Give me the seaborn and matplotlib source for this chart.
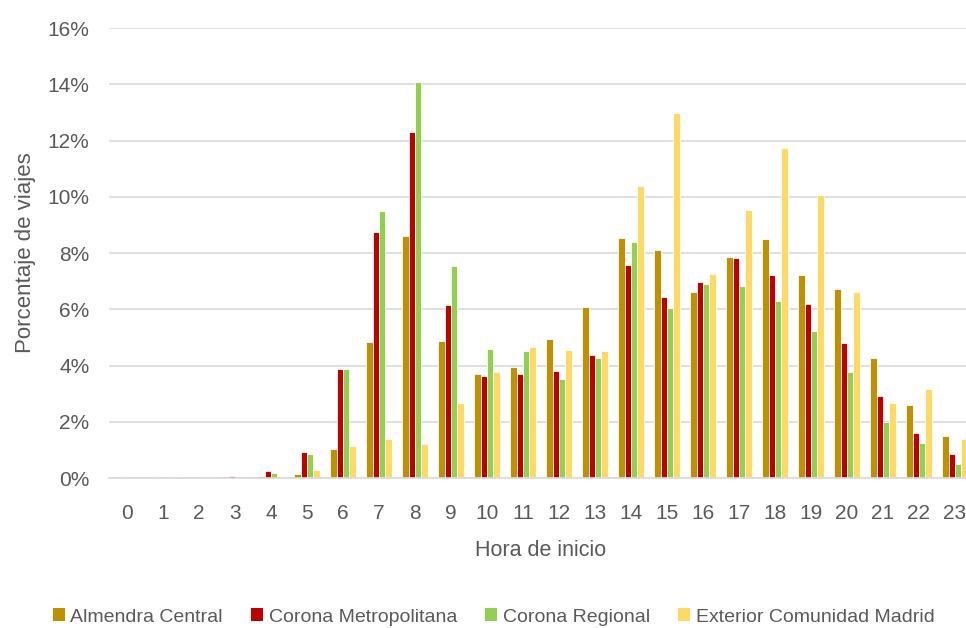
import matplotlib
matplotlib.use("Agg")
import matplotlib.pyplot as plt
import seaborn as sns
import pandas as pd
from matplotlib.ticker import PercentFormatter
from matplotlib.patches import Patch

hours = [str(h) for h in range(24)]
series = ["Almendra Central", "Corona Metropolitana", "Corona Regional", "Exterior Comunidad Madrid"]

almendra = [0.01, 0.02, 0.01, 0.01, 0.06, 0.14, 1.03, 4.85, 8.62, 4.88, 3.69, 3.93,
            4.95, 6.07, 8.53, 8.11, 6.62, 7.85, 8.50, 7.22, 6.71, 4.26, 2.61, 1.48]
metropolitana = [0.03, 0.01, 0.01, 0.07, 0.24, 0.91, 3.88, 8.73, 12.31, 6.16, 3.63, 3.69,
                 3.81, 4.37, 7.56, 6.43, 6.98, 7.83, 7.21, 6.18, 4.80, 2.93, 1.59, 0.85]
regional = [0.01, 0.01, 0.01, 0.02, 0.18, 0.85, 3.88, 9.48, 14.07, 7.53, 4.58, 4.53,
            3.51, 4.27, 8.40, 6.03, 6.89, 6.84, 6.28, 5.23, 3.78, 2.00, 1.24, 0.50]
exterior = [0.01, 0.07, 0.06, 0.01, 0.02, 0.28, 1.14, 1.39, 1.21, 2.66, 3.78, 4.66,
            4.56, 4.53, 10.38, 12.98, 7.25, 9.54, 11.74, 10.05, 6.61, 2.67, 3.18, 1.39]

colors = ["#BF9000", "#C00000", "#92D050", "#FFD966"]

rows = []
for name, vals in zip(series, [almendra, metropolitana, regional, exterior]):
    for h, v in zip(hours, vals):
        rows.append({"hora": h, "zona": name, "pct": v})
df = pd.DataFrame(rows)

sns.set_theme(style="white")
plt.rcParams["font.family"] = ["Liberation Sans", "DejaVu Sans"]
text_color = "#595959"

fig = plt.figure(figsize=(9.66, 6.28), dpi=100)
ax = fig.add_axes([109 / 966, 1 - 478 / 628, 864 / 966, 450 / 628])

sns.barplot(data=df, x="hora", y="pct", hue="zona", order=hours, hue_order=series,
            palette=colors, width=0.72, edgecolor="white", linewidth=0.6,
            saturation=1, legend=False, ax=ax)

ax.set_ylim(0, 16)
ax.set_yticks(range(0, 17, 2))
ax.yaxis.set_major_formatter(PercentFormatter(decimals=0))
ax.set_xlim(-0.5, 23.5)
ax.yaxis.grid(True, color="#D9D9D9", linewidth=1.2)
ax.set_axisbelow(True)
for s in ["top", "right", "left"]:
    ax.spines[s].set_visible(False)
ax.spines["bottom"].set_color("#D9D9D9")
ax.spines["bottom"].set_linewidth(1.2)
ax.tick_params(axis="both", length=0, labelsize=15, colors=text_color)
ax.tick_params(axis="y", pad=14)
ax.tick_params(axis="x", pad=19)

ax.set_xlabel("Hora de inicio", fontsize=15.5, color=text_color, labelpad=12)
ax.set_ylabel("Porcentaje de viajes", fontsize=16, color=text_color, labelpad=8)

handles = [Patch(facecolor=c, edgecolor="none") for c in colors]
fig.legend(handles, series, loc="center left", bbox_to_anchor=(53 / 966, 1 - 617 / 628), ncol=4,
           frameon=False, fontsize=14, handlelength=0.62, handleheight=0.62,
           handletextpad=0.28, columnspacing=1.45, borderpad=0, borderaxespad=0,
           labelcolor=text_color)

fig.savefig("out.png", dpi=100)
